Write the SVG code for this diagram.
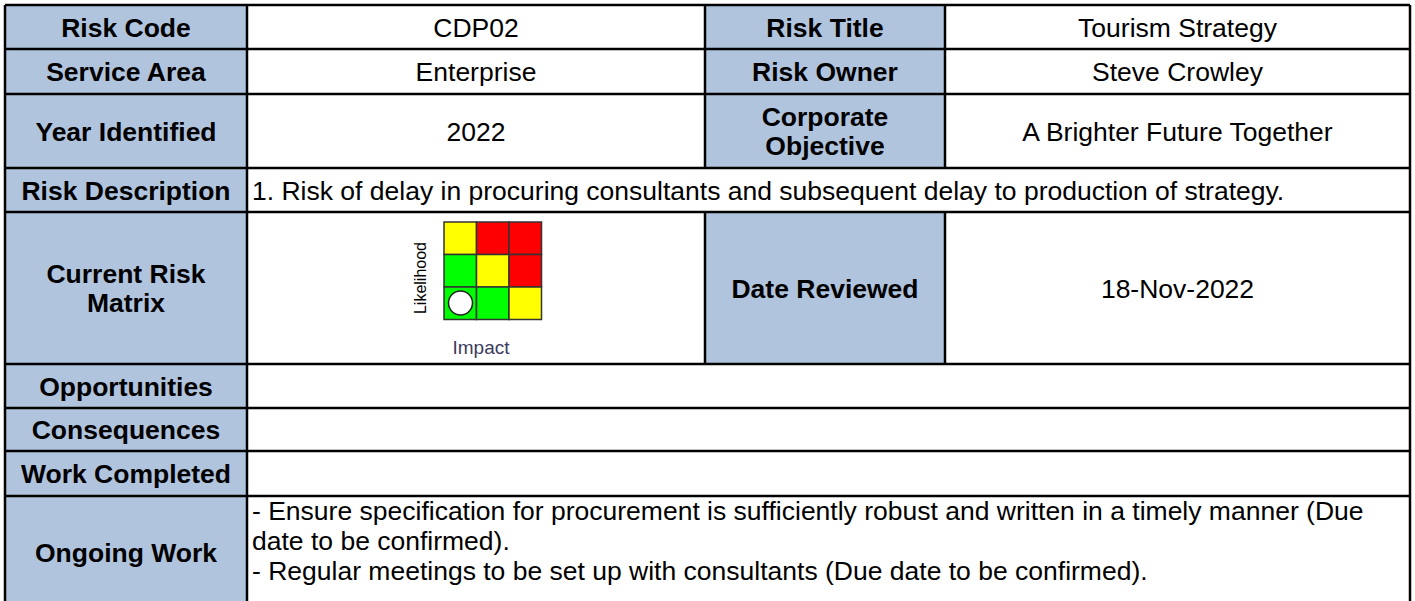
<svg xmlns="http://www.w3.org/2000/svg" width="1415" height="601" viewBox="0 0 1415 601">
<style>
.bg{fill:#ffffff}
.hd{fill:#b0c4de}
.ln{stroke:#000;stroke-width:2.5;fill:none}
.lb{font-family:"Liberation Sans",Arial,sans-serif;font-size:26.5px;font-weight:bold;fill:#000;text-anchor:middle}
.tx{font-family:"Liberation Sans",Arial,sans-serif;font-size:26.5px;fill:#000;text-anchor:middle}
.tl{font-family:"Liberation Sans",Arial,sans-serif;font-size:26.5px;fill:#000}
.cell{stroke:#333;stroke-width:1.5}
</style>
<rect x="0" y="0" width="1415" height="601" class="bg"/>
<g id="header-cells">
<rect x="5" y="5" width="242" height="600" class="hd"/>
<rect x="705" y="5" width="240" height="163" class="hd"/>
<rect x="705" y="212" width="240" height="152" class="hd"/>
</g>
<g id="grid">
<path class="ln" d="M5,5H1410 M5,49H1410 M5,94H1410 M5,168H1410 M5,212H1410 M5,364H1410 M5,408H1410 M5,451H1410 M5,496H1410"/>
<path class="ln" d="M5,5V601 M247,5V601 M705,5V168 M705,212V364 M945,5V168 M945,212V364 M1410,5V601"/>
</g>
<g id="risk-code"><text class="lb" x="126" y="36.5">Risk Code</text><text class="tx" x="476" y="36.5">CDP02</text></g>
<g id="risk-title"><text class="lb" x="825" y="36.5">Risk Title</text><text class="tx" x="1177.5" y="36.5">Tourism Strategy</text></g>
<g id="service-area"><text class="lb" x="126" y="81">Service Area</text><text class="tx" x="476" y="81">Enterprise</text></g>
<g id="risk-owner"><text class="lb" x="825" y="81">Risk Owner</text><text class="tx" x="1177.5" y="81">Steve Crowley</text></g>
<g id="year-identified"><text class="lb" x="126" y="140.5">Year Identified</text><text class="tx" x="476" y="140.5">2022</text></g>
<g id="corporate-objective"><text class="lb" x="825" y="126">Corporate</text><text class="lb" x="825" y="155">Objective</text><text class="tx" x="1177.5" y="140.5">A Brighter Future Together</text></g>
<g id="risk-description"><text class="lb" x="126" y="199.5">Risk Description</text><text class="tl" x="252" y="199.5">1. Risk of delay in procuring consultants and subsequent delay to production of strategy.</text></g>
<g id="current-risk-matrix"><text class="lb" x="126" y="283">Current Risk</text><text class="lb" x="126" y="312">Matrix</text></g>
<g id="matrix">
<rect class="cell" x="444" y="222" width="32.5" height="32.5" fill="#ffff00"/>
<rect class="cell" x="476.5" y="222" width="32.5" height="32.5" fill="#ff0000"/>
<rect class="cell" x="509" y="222" width="32.5" height="32.5" fill="#ff0000"/>
<rect class="cell" x="444" y="254.5" width="32.5" height="32.5" fill="#00ff00"/>
<rect class="cell" x="476.5" y="254.5" width="32.5" height="32.5" fill="#ffff00"/>
<rect class="cell" x="509" y="254.5" width="32.5" height="32.5" fill="#ff0000"/>
<rect class="cell" x="444" y="287" width="32.5" height="32.5" fill="#00ff00"/>
<rect class="cell" x="476.5" y="287" width="32.5" height="32.5" fill="#00ff00"/>
<rect class="cell" x="509" y="287" width="32.5" height="32.5" fill="#ffff00"/>
<circle cx="460.5" cy="303" r="12" fill="#ffffff" stroke="#222" stroke-width="1.5"/>
<text x="0" y="0" transform="translate(426,278) rotate(-90)" font-family="'Liberation Sans',Arial,sans-serif" font-size="16" text-anchor="middle" fill="#000">Likelihood</text>
<text x="481" y="354" font-family="'Liberation Sans',Arial,sans-serif" font-size="19" text-anchor="middle" fill="#3b3b5c">Impact</text>
</g>
<g id="date-reviewed"><text class="lb" x="825" y="297.5">Date Reviewed</text><text class="tx" x="1177.5" y="297.5">18-Nov-2022</text></g>
<g id="opportunities"><text class="lb" x="126" y="395.5">Opportunities</text></g>
<g id="consequences"><text class="lb" x="126" y="439">Consequences</text></g>
<g id="work-completed"><text class="lb" x="126" y="483">Work Completed</text></g>
<g id="ongoing-work"><text class="lb" x="126" y="562">Ongoing Work</text>
<text class="tl" x="252" y="520">- Ensure specification for procurement is sufficiently robust and written in a timely manner (Due</text>
<text class="tl" x="252" y="550">date to be confirmed).</text>
<text class="tl" x="252" y="580">- Regular meetings to be set up with consultants (Due date to be confirmed).</text>
</g>
</svg>
